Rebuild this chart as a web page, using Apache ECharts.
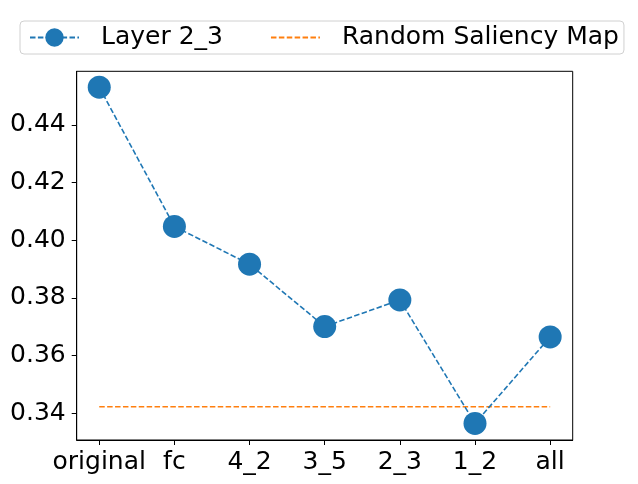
<!DOCTYPE html>
<html>
<head>
<meta charset="utf-8">
<script src="https://cdn.jsdelivr.net/npm/echarts@6/dist/echarts.min.js"></script>
<style>
  html, body { margin: 0; padding: 0; background: #fff; }
  #chart { width: 638px; height: 484px; }
</style>
</head>
<body>
<div id="chart"></div>
<script>
  const categories = ['original', 'fc', '4_2', '3_5', '2_3', '1_2', 'all'];
  const layerValues = [0.4531, 0.4048, 0.3917, 0.3701, 0.3793, 0.3365, 0.3665];
  const randomValue = 0.3423;
  const yTicks = [0.34, 0.36, 0.38, 0.40, 0.42, 0.44];

  const font = 'DejaVu Sans';
  const fontSize = 25;
  const myChart = echarts.init(document.getElementById('chart'));

  const xTicks = categories.map((c, i) => i);

  const options = {
    animation: false,
    legend: {
      left: 20,
      top: 21,
      padding: [4, 5, 4, 9],
      itemWidth: 49,
      itemHeight: 23,
      itemGap: 47,
      borderColor: '#d0d0d0',
      borderWidth: 1,
      borderRadius: 4,
      textStyle: {
        fontFamily: font,
        fontSize: fontSize,
        color: '#000',
        padding: [0, 0, 0, 17],
      },
      data: [
        { name: 'Layer 2_3' },
        { name: 'Random Saliency Map', itemStyle: { opacity: 0 } },
      ],
    },
    grid: {
      left: 76.7,
      right: 65.3,
      top: 71.3,
      bottom: 44,
      show: true,
      borderColor: '#000',
      borderWidth: 1,
    },
    xAxis: {
      type: 'value',
      min: -0.3,
      max: 6.3,
      splitLine: { show: false },
      axisLine: { onZero: false, lineStyle: { color: '#000', width: 1 } },
      axisTick: {
        customValues: xTicks,
        length: 5,
        lineStyle: { color: '#000' },
      },
      axisLabel: {
        customValues: xTicks,
        formatter: (v) => categories[Math.round(v)],
        fontFamily: font,
        fontSize: fontSize,
        color: '#000',
        margin: 10,
      },
    },
    yAxis: {
      type: 'value',
      min: 0.33075,
      max: 0.4586,
      splitLine: { show: false },
      axisLine: { show: true, onZero: false, lineStyle: { color: '#000', width: 1 } },
      axisTick: {
        show: true,
        customValues: yTicks,
        length: 5,
        lineStyle: { color: '#000' },
      },
      axisLabel: {
        customValues: yTicks,
        formatter: (v) => v.toFixed(2),
        fontFamily: font,
        fontSize: fontSize,
        color: '#000',
        margin: 11,
      },
    },
    series: [
      {
        name: 'Layer 2_3',
        type: 'line',
        data: layerValues.map((v, i) => [i, v]),
        symbol: 'circle',
        symbolSize: 23,
        itemStyle: { color: '#1f77b4' },
        lineStyle: { color: '#1f77b4', width: 1.6, type: [5.5, 2.4] },
        z: 3,
      },
      {
        name: 'Random Saliency Map',
        type: 'line',
        data: [[0, randomValue], [6, randomValue]],
        symbol: 'none',
        itemStyle: { color: '#ff7f0e' },
        lineStyle: { color: '#ff7f0e', width: 1.6, type: [5.5, 2.4] },
        z: 2,
      },
    ],
  };

  myChart.setOption(options);
</script>
</body>
</html>
